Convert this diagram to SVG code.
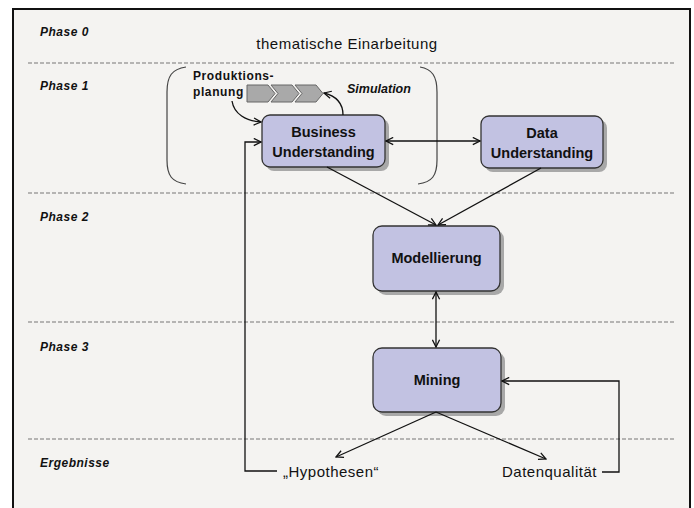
<svg xmlns="http://www.w3.org/2000/svg" width="694" height="508" viewBox="0 0 694 508">
<defs>
<style>
.phase{font-family:"Liberation Sans",Arial,sans-serif;font-size:12px;font-weight:bold;font-style:italic;fill:#111;letter-spacing:0.5px}
.node rect.bg{fill:#c2c2e2;stroke:#333;stroke-width:1.3}
.node rect.sh{fill:#a8a8a8}
.nt{font-family:"Liberation Sans",Arial,sans-serif;font-size:14.5px;font-weight:bold;fill:#111;text-anchor:middle}
.lbl{font-family:"Liberation Sans",Arial,sans-serif;font-size:15px;fill:#111;letter-spacing:0.5px}
.dash{stroke:#777;stroke-width:1.2;stroke-dasharray:4 2;fill:none}
.con{stroke:#111;stroke-width:1.3;fill:none}
</style>
<marker id="ah" viewBox="0 0 10 10" refX="9" refY="5" markerWidth="9" markerHeight="9" markerUnits="userSpaceOnUse" orient="auto-start-reverse">
<path d="M1,1 L9,5 L1,9" fill="none" stroke="#111" stroke-width="1.4"/>
</marker>
</defs>
<rect x="0" y="0" width="694" height="508" fill="#ffffff"/>
<rect x="13" y="9" width="677" height="520" fill="#f4f3f1" stroke="#111" stroke-width="2"/>

<g id="phases">
<line class="dash" x1="28" y1="63" x2="676" y2="63"/>
<line class="dash" x1="28" y1="193" x2="676" y2="193"/>
<line class="dash" x1="28" y1="322" x2="676" y2="322"/>
<line class="dash" x1="28" y1="439" x2="676" y2="439"/>
<text class="phase" x="40" y="36">Phase 0</text>
<text class="phase" x="40" y="90">Phase 1</text>
<text class="phase" x="40" y="221">Phase 2</text>
<text class="phase" x="40" y="351">Phase 3</text>
<text class="phase" x="40" y="467">Ergebnisse</text>
<text class="lbl" x="347" y="49" text-anchor="middle" letter-spacing="0.3">thematische Einarbeitung</text>
</g>

<g id="simulation">
<path d="M186,67 C172,69 167,76 167,92 V160 C167,176 172,182 186,184" fill="none" stroke="#444" stroke-width="1.2"/>
<path d="M420,67 C432,69 437,76 437,92 V160 C437,176 432,182 418,184" fill="none" stroke="#444" stroke-width="1.2"/>
<polygon points="247,85 268,85 275,93.5 268,102 247,102" fill="#a9a9a9" stroke="#666" stroke-width="1"/>
<polygon points="271,85 292,85 299,93.5 292,102 271,102 278,93.5" fill="#a9a9a9" stroke="#666" stroke-width="1"/>
<polygon points="295,85 316,85 323,93.5 316,102 295,102 302,93.5" fill="#a9a9a9" stroke="#666" stroke-width="1"/>
<text x="193" y="80" font-family="Liberation Sans,Arial,sans-serif" font-size="12" font-weight="bold" fill="#111" letter-spacing="0.6">Produktions-</text>
<text x="193" y="96" font-family="Liberation Sans,Arial,sans-serif" font-size="12" font-weight="bold" fill="#111" letter-spacing="0.6">planung</text>
<text x="347" y="93" font-family="Liberation Sans,Arial,sans-serif" font-size="12.5" font-weight="bold" font-style="italic" fill="#111">Simulation</text>
</g>

<g id="business" class="node">
<rect class="sh" x="266" y="119" width="123" height="52" rx="8"/>
<rect class="bg" x="262" y="115" width="123" height="52" rx="8"/>
<text class="nt" x="323.5" y="137">Business</text>
<text class="nt" x="323.5" y="157">Understanding</text>
</g>
<g id="data" class="node">
<rect class="sh" x="485" y="120" width="122" height="52" rx="8"/>
<rect class="bg" x="481" y="116" width="122" height="52" rx="8"/>
<text class="nt" x="542" y="138">Data</text>
<text class="nt" x="542" y="158">Understanding</text>
</g>
<g id="modellierung" class="node">
<rect class="sh" x="377" y="230" width="127" height="65" rx="9"/>
<rect class="bg" x="373" y="226" width="127" height="65" rx="9"/>
<text class="nt" x="436.5" y="263">Modellierung</text>
</g>
<g id="mining" class="node">
<rect class="sh" x="377" y="352" width="128" height="64" rx="9"/>
<rect class="bg" x="373" y="348" width="128" height="64" rx="9"/>
<text class="nt" x="437" y="385">Mining</text>
</g>
<g id="hypothesen"><text class="lbl" x="283" y="477" letter-spacing="0.9">„Hypothesen“</text></g>
<g id="datenqualitaet"><text class="lbl" x="502" y="477">Datenqualität</text></g>

<g id="connectors">
<path class="con" d="M232,101 C234,114 246,121 261,122" marker-end="url(#ah)"/>
<path class="con" d="M343,115 C343,103 336,96 324,93" marker-end="url(#ah)"/>
<line class="con" x1="386" y1="141" x2="480" y2="141" marker-start="url(#ah)" marker-end="url(#ah)"/>
<line class="con" x1="327" y1="167" x2="436" y2="225" marker-end="url(#ah)"/>
<line class="con" x1="541" y1="168" x2="438" y2="225" marker-end="url(#ah)"/>
<line class="con" x1="436" y1="292" x2="436" y2="347" marker-start="url(#ah)" marker-end="url(#ah)"/>
<line class="con" x1="436" y1="412" x2="336" y2="457" marker-end="url(#ah)"/>
<line class="con" x1="436" y1="412" x2="546" y2="459" marker-end="url(#ah)"/>
<path class="con" d="M602,472 H619 V381 H502" marker-end="url(#ah)"/>
<path class="con" d="M277,471 H245 V142 H261" marker-end="url(#ah)"/>
</g>
</svg>
